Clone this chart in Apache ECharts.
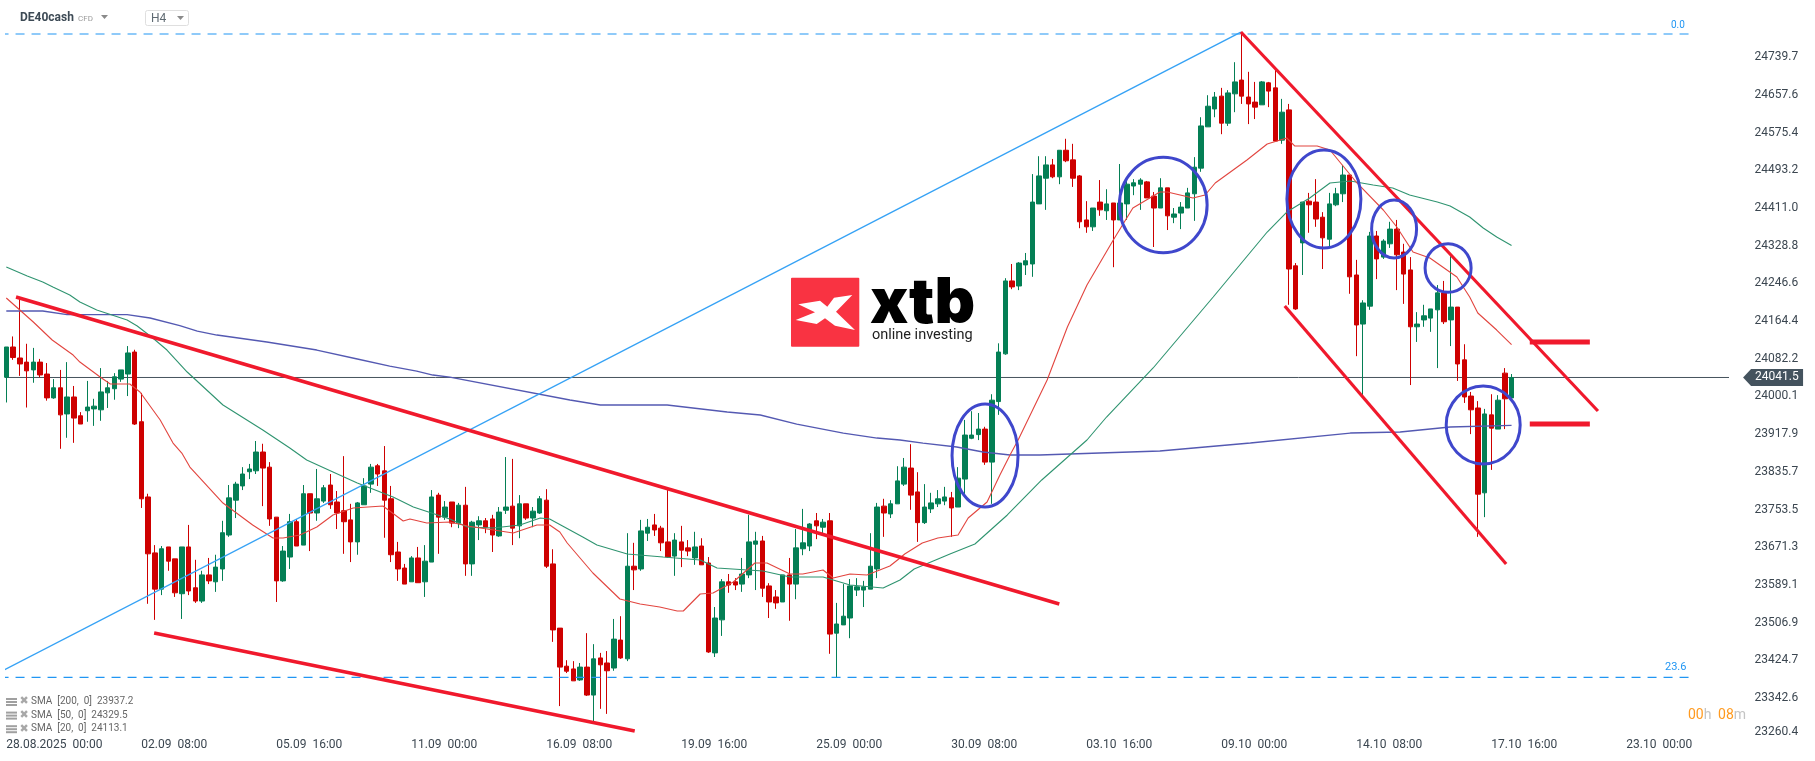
<!DOCTYPE html>
<html><head><meta charset="utf-8">
<style>html,body{margin:0;padding:0;background:#fff}#c{width:1815px;height:761px}</style>
<script src="https://cdn.jsdelivr.net/npm/echarts@6/dist/echarts.min.js"></script>
</head><body><div id="c"></div>
<script>
const opens=[24042,24108,24084,24075,24058,24075,24049,23997,24019,23962,
23999,23958,23969,23973,23971,24008,24017,24038,24049,24097,
23945,23781,23659,23580,23672,23646,23570,23672,23583,23554,
23611,23596,23624,23698,23774,23805,23836,23838,23879,23846,
23737,23598,23650,23727,23676,23788,23746,23772,23807,23770,
23751,23731,23683,23764,23809,23849,23838,23777,23661,23626,
23596,23648,23596,23639,23785,23737,23770,23724,23763,23635,
23720,23729,23733,23696,23752,23761,23718,23766,23735,23746,
23774,23635,23495,23412,23406,23382,23410,23349,23430,23419,
23408,23469,23428,23630,23624,23702,23720,23713,23683,23652,
23683,23670,23648,23674,23637,23441,23513,23596,23596,23591,
23611,23678,23685,23587,23563,23552,23611,23591,23668,23674,
23729,23715,23729,23484,23502,23517,23578,23578,23580,23624,
23761,23744,23766,23809,23844,23792,23725,23755,23766,23772,
23779,23759,23820,23909,23917,23929,23857,23989,24093,24252,
24241,24287,24289,24420,24476,24505,24479,24537,24516,24481,
24385,24370,24424,24405,24422,24385,24420,24459,24463,24468,
24437,24411,24455,24391,24400,24411,24442,24498,24588,24627,
24655,24596,24660,24690,24653,24642,24636,24684,24673,24559,
24625,24285,24335,24426,24424,24391,24343,24418,24442,24483,
24265,24158,24197,24350,24304,24333,24365,24315,24276,24152,
24167,24171,24189,24226,24167,24195,24080,24001,23975,23790,
23960,23929,24051,23997];
const closes=[24108,24085,24071,24056,24075,24047,23997,24019,23960,23999,
23953,23940,23977,23979,24010,24019,24043,24058,24095,23940,
23777,23657,23580,23668,23641,23572,23672,23576,23554,23611,
23598,23628,23703,23779,23809,23831,23842,23879,23844,23733,
23598,23663,23727,23674,23788,23746,23777,23801,23764,23746,
23727,23683,23768,23805,23846,23831,23774,23655,23624,23591,
23648,23594,23641,23781,23737,23759,23724,23763,23635,23726,
23729,23715,23698,23748,23759,23713,23766,23735,23750,23777,
23630,23491,23410,23401,23380,23410,23349,23428,23415,23402,
23471,23430,23630,23622,23707,23715,23709,23681,23650,23687,
23665,23663,23672,23633,23443,23517,23596,23589,23589,23613,
23683,23685,23582,23552,23550,23611,23591,23670,23681,23722,
23718,23726,23482,23504,23521,23587,23585,23585,23630,23759,
23746,23766,23816,23846,23785,23725,23759,23768,23777,23781,
23757,23822,23916,23916,23929,23857,23992,24097,24252,24239,
24291,24296,24424,24481,24505,24479,24537,24514,24476,24381,
24370,24411,24407,24420,24385,24422,24463,24466,24472,24433,
24411,24455,24394,24398,24413,24444,24500,24590,24633,24653,
24596,24662,24686,24655,24638,24631,24686,24666,24557,24620,
24278,24191,24424,24418,24387,24346,24420,24442,24483,24261,
24156,24204,24350,24300,24339,24365,24309,24267,24152,24158,
24176,24191,24226,24163,24195,24071,23999,23971,23787,23962,
23931,23992,23995,24041.5];
const highs=[24108,24131,24214,24115,24106,24082,24073,24038,24058,24075,
24023,23966,24034,23995,24062,24034,24051,24058,24110,24102,
24008,23788,23676,23674,23672,23646,23672,23720,23644,23620,
23648,23655,23729,23807,23814,23846,23853,23903,23897,23857,
23737,23674,23744,23733,23807,23788,23842,23807,23831,23794,
23870,23766,23770,23822,23853,23853,23892,23805,23683,23635,
23652,23672,23676,23796,23790,23772,23770,23768,23803,23729,
23739,23735,23742,23759,23868,23864,23785,23766,23759,23783,
23798,23667,23495,23425,23423,23419,23484,23460,23441,23445,
23515,23521,23702,23681,23731,23733,23744,23718,23796,23702,
23718,23687,23705,23691,23650,23541,23602,23613,23604,23648,
23742,23705,23696,23593,23578,23611,23648,23711,23755,23724,
23746,23733,23746,23550,23591,23602,23604,23598,23702,23768,
23777,23774,23848,23866,23896,23835,23809,23790,23796,23803,
23792,23846,23949,23968,23964,23934,24005,24116,24258,24289,
24293,24313,24485,24524,24524,24518,24537,24562,24551,24483,
24426,24411,24472,24452,24422,24507,24474,24474,24476,24470,
24446,24476,24455,24411,24424,24455,24522,24609,24657,24664,
24673,24668,24729,24795,24708,24686,24688,24686,24712,24649,
24638,24291,24424,24444,24474,24402,24444,24455,24505,24483,
24298,24210,24359,24361,24343,24381,24385,24333,24304,24184,
24200,24191,24243,24252,24306,24195,24114,24010,23990,23973,
24005,24003,24062,24049];
const lows=[23987,24080,24045,23976,24030,24042,23991,23995,23886,23910,
23899,23940,23945,23936,23947,23975,23993,24032,24001,23938,
23757,23548,23513,23567,23620,23563,23515,23567,23550,23550,
23591,23574,23598,23694,23735,23796,23820,23831,23761,23718,
23552,23596,23624,23674,23676,23663,23729,23768,23755,23711,
23657,23639,23655,23764,23790,23805,23692,23639,23598,23591,
23596,23594,23563,23639,23657,23731,23715,23713,23609,23609,
23687,23702,23661,23694,23744,23676,23691,23731,23715,23744,
23626,23465,23325,23397,23380,23380,23347,23290,23319,23308,
23402,23428,23423,23578,23620,23685,23696,23663,23648,23609,
23628,23652,23633,23633,23441,23432,23478,23572,23578,23574,
23604,23578,23563,23517,23537,23552,23511,23558,23654,23663,
23689,23696,23439,23388,23502,23473,23565,23541,23580,23604,
23694,23735,23766,23805,23753,23683,23722,23746,23759,23763,
23694,23759,23785,23907,23905,23851,23766,23960,24091,24234,
24232,24265,24261,24420,24407,24476,24463,24511,24457,24367,
24357,24361,24394,24385,24282,24385,24385,24439,24407,24433,
24326,24411,24363,24378,24365,24411,24383,24490,24588,24609,
24572,24590,24620,24638,24594,24605,24636,24631,24557,24551,
24200,24189,24265,24357,24370,24278,24328,24415,24424,24224,
24088,24003,24189,24256,24300,24324,24232,24202,24025,24119,
24152,24141,24062,24158,24110,24034,23986,23918,23694,23737,
23840,23929,23929,23997];

const sma200=[[0,24186.5],[5.4,24186.5],[9,24178.4],[17.9,24178.4],[21.3,24171.2],[25.7,24154.4],[28.3,24142.8],[31.2,24134.1],[38.6,24118.9],[46,24101.4],[52,24081.8],[56.8,24066.5],[60.8,24055.6],[63.2,24046.9],[65.7,24042.5],[83.5,23992.4],[88,23981.5],[97.9,23981.5],[106.8,23966.2],[111.7,23959.7],[117.1,23940],[124,23920.4],[129,23909.5],[132.4,23905.2],[135.8,23898.6],[140.8,23889.9],[144.7,23879],[148.7,23872.5],[153.1,23872.5],[162,23876.8],[170.9,23881.2],[184.3,23898.6],[199.1,23920.4],[206.5,23922.6],[213.9,23933.5],[223,23937.2]];
const sma50=[[0,24282.4],[3.1,24262.8],[5.4,24249.7],[6.9,24238.8],[9.4,24221.3],[10.9,24206.1],[13.4,24188.6],[17.9,24166.8],[19.4,24153.7],[21.7,24127.6],[23.8,24101.4],[26.8,24053.4],[32.1,23981.5],[38,23927],[42,23887.7],[44.5,23861.6],[48.4,23835.4],[52,23811.4],[57.3,23780.9],[60.3,23759.1],[65.7,23732.9],[68.3,23715.5],[72.1,23713.3],[76.1,23719.8],[79.1,23735.1],[80.5,23732.9],[85.4,23693.7],[87.5,23676.2],[92,23656.6],[97.3,23650],[102.8,23643.5],[105.3,23626],[112.1,23619.5],[116.1,23606.4],[121,23606.4],[125,23589],[129.9,23582.5],[132.4,23599.9],[134.5,23624],[139.8,23656.6],[143.5,23678.4],[148.3,23741.7],[153.4,23818],[160.1,23905.2],[163,23955.3],[169.9,24062.2],[178.8,24217],[186.8,24358.7],[189.7,24402.3],[193.1,24432.9],[196.1,24465.6],[199.1,24469.9],[202.5,24461.2],[205.4,24454.7],[207.9,24439.4],[212,24424.2],[213.9,24415.4],[216.8,24391.4],[218.8,24367.4],[220.8,24347.8],[223,24329.5]];
const sma20=[[0,24214.8],[2,24188.6],[4,24162.5],[6.8,24123.2],[9.9,24090.5],[10.9,24075.2],[13.9,24042.5],[15.4,24027.3],[18.3,24027.3],[19.8,24009.8],[22.8,23948.8],[24.7,23898.6],[26,23876.8],[27.2,23846.3],[32.1,23767.8],[36.5,23719.8],[39.5,23691.5],[41,23691.5],[43.5,23698],[46,23715.5],[48.4,23741.7],[51.4,23756.9],[55.8,23761.3],[58.8,23728.6],[59.8,23732.9],[62.3,23724.2],[65.7,23726.4],[68.3,23717.7],[75.1,23702.4],[78.6,23719.8],[80.5,23719.8],[82,23704.6],[83.1,23680.6],[86.9,23615.2],[90.9,23558.5],[93.9,23547.6],[96.8,23541],[99.4,23532.3],[100.3,23532.3],[102.8,23569.4],[104.7,23571.6],[107.7,23595.6],[110.9,23637],[112.7,23637],[116.1,23613],[118,23613],[121,23621.7],[122.5,23604.2],[125,23613],[127.5,23610.8],[129.4,23621.7],[130.9,23630.4],[132.4,23647.9],[133.1,23656.6],[135.7,23680.6],[138,23691.5],[141,23698],[142.5,23735.1],[145.3,23770],[147.2,23828.9],[148.7,23872.5],[149.9,23905.2],[154.2,24036],[157.2,24151.6],[160.1,24243.2],[164,24341.3],[166.9,24411],[170.9,24445.9],[172,24445.9],[175.8,24432.9],[177.6,24439.4],[179.1,24465.6],[183.8,24515.7],[186.8,24550.6],[189.7,24563.7],[190.9,24546.2],[194.2,24546.2],[196.1,24537.5],[200.1,24465.6],[204,24406.7],[206,24369.6],[208.4,24315.1],[210.9,24302],[214.9,24260.6],[216.8,24217],[218,24182.1],[220.8,24145],[223,24113.1]];

const trendUpper=[[1.44,24217],[156,23547.6]];
const trendLower=[[21.9,23484.3],[93.1,23270.7]];
const fibRise=[[-0.93,23399.3],[182.9,24794.8]];
const channelUpper=[[182.9,24794.8],[235.8,23968.4]];
const channelLower=[[189.4,24197.4],[222.2,23634.8]];
const levelHigh=[[225.7,24118.9],[234.6,24118.9]];
const levelLow=[[225.7,23940],[234.6,23940]];
const fib0=[[-1,24790.5],[249.5,24790.5]];
const fib236=[[-1,23387.7],[249.5,23387.7]];
const lastPrice=24041.5;
const lastLine=[[-1,lastPrice],[257.3,lastPrice]];
// centre index, centre price, radius in bars, radius in price
const rings=[[145,23871.4,4.89,112.3],[171.4,24417.6,6.5,104],[195.2,24430.7,5.48,106.8],[205.6,24365.3,3.33,63.2],[213.6,24280.2,3.41,53],[218.8,23938,5.48,85]];

const priceTicks=[24739.7,24657.6,24575.4,24493.2,24411.0,24328.8,24246.6,24164.4,24082.2,24000.1,23917.9,23835.7,23753.5,23671.3,23589.1,23506.9,23424.7,23342.6,23260.4];
const timeTicks=[0,20,40,60,80,100,120,140,160,180,200,220,240];
const timeLabels=['28.08.2025  00:00','02.09  08:00','05.09  16:00','11.09  00:00','16.09  08:00','19.09  16:00','25.09  00:00','30.09  08:00','03.10  16:00','09.10  00:00','14.10  08:00','17.10  16:00','23.10  00:00'];
const smaLegend=['SMA  [200,  0]  23937.2','SMA  [50,  0]  24329.5','SMA  [20,  0]  24113.1'];

const RED='#ce0000',GREEN='#047f55',TREND='#f0192c',FIB='#2196f3',INK='#3b4650',FONT='Roboto';
const candles=opens.map((o,i)=>[i,o,closes[i],lows[i],highs[i]]);
const straight=(name,data,color,width,extra)=>Object.assign({name,type:'line',data,symbol:'none',silent:true,clip:false,animation:false,
  lineStyle:{color,width,cap:'butt'},z:5},extra||{});

const legendGraphic=[];
smaLegend.forEach((t,i)=>{
  const y=702+i*13.6;
  [-4,-1,2].forEach(d=>legendGraphic.push({type:'rect',shape:{x:6,y:y+d,width:11,height:2},style:{fill:'#a0a0a0'},silent:true}));
  legendGraphic.push({type:'text',style:{text:'✖',x:19.5,y:y-6,font:'11px "DejaVu Sans"',fill:'#a8a8a8'},silent:true});
  legendGraphic.push({type:'text',style:{text:t,x:31,y:y-5.5,font:'10px '+FONT,fill:'#666'},silent:true});
});

const chart=echarts.init(document.getElementById('c'),null,{renderer:'canvas'});
chart.setOption({
  animation:false,
  backgroundColor:'#fff',
  grid:{left:6.3,width:1721.25,top:10,height:728,containLabel:false},
  xAxis:{type:'value',min:0,max:255,splitLine:{show:false},axisLine:{show:false},axisTick:{show:false},
    axisLabel:{customValues:timeTicks,align:'left',margin:1,color:INK,fontFamily:FONT,fontSize:12,
      formatter:v=>timeLabels[timeTicks.indexOf(v)]||''}},
  yAxis:{type:'value',position:'right',min:23255.4,max:24842.8,scale:true,splitLine:{show:false},axisLine:{show:false},axisTick:{show:false},
    axisLabel:{customValues:priceTicks,margin:27,align:'left',color:INK,fontFamily:FONT,fontSize:12,
      formatter:v=>v===23260.4?'{low|23260.4}':v.toFixed(1),
      rich:{low:{padding:[0,0,8,0],color:INK,fontFamily:FONT,fontSize:12}}}},
  series:[
    straight('price',lastLine,'#46535d',1,{z:1}),
    {name:'DE40cash',type:'candlestick',data:candles,encode:{x:0,y:[1,2,3,4]},barWidth:5,clip:false,z:3,silent:true,
      itemStyle:{color:GREEN,color0:RED,borderColor:GREEN,borderColor0:RED,borderWidth:1}},
    straight('SMA200',sma200,'#5459b2',1.3,{z:4}),
    straight('SMA50',sma50,'#2f9470',1.1,{z:4}),
    straight('SMA20',sma20,'#e2453f',1.1,{z:4}),
    straight('fib0',fib0,FIB,1.2,{lineStyle:{color:FIB,width:1.2,type:[9,7]}}),
    straight('fib236',fib236,FIB,1.2,{lineStyle:{color:FIB,width:1.2,type:[9,7]}}),
    straight('fibRise',fibRise,'#36a2f5',1.4),
    straight('trendUpper',trendUpper,TREND,3.5),
    straight('trendLower',trendLower,TREND,3.5),
    straight('channelUpper',channelUpper,TREND,3.2),
    straight('channelLower',channelLower,TREND,3.2),
    straight('levelHigh',levelHigh,TREND,5),
    straight('levelLow',levelLow,TREND,5),
    {name:'rings',type:'custom',data:rings,clip:false,z:6,silent:true,
      renderItem:(p,api)=>{const c=api.coord([api.value(0),api.value(1)]);const s=api.size([api.value(2),api.value(3)]);
        return {type:'ellipse',shape:{cx:c[0],cy:c[1],rx:s[0],ry:s[1]},style:{fill:null,stroke:'#3f47cc',lineWidth:3}};}},
    {name:'lastTag',type:'custom',data:[[257.3,lastPrice]],clip:false,z:7,silent:true,
      renderItem:(p,api)=>{const c=api.coord([api.value(0),api.value(1)]);
        return {type:'group',x:c[0],y:c[1],children:[
          {type:'polygon',shape:{points:[[0,0],[8,-8.5],[60,-8.5],[60,8.5],[8,8.5]]},style:{fill:'#44535e'}},
          {type:'text',style:{text:lastPrice.toFixed(1),x:12,y:-6,font:'12px '+FONT,fill:'#fff'}}]};}}
  ],
  graphic:[
    {type:'text',silent:true,style:{text:'DE40cash',x:20,y:12,font:'bold 12px '+FONT,fill:'#3d4a55'}},
    {type:'text',silent:true,style:{text:'CFD',x:78,y:15,font:'8px '+FONT,fill:'#9a9a9a'}},
    {type:'polygon',silent:true,shape:{points:[[101,15],[108,15],[104.5,19]]},style:{fill:'#8a8a8a'}},
    {type:'rect',silent:true,shape:{x:145.5,y:10.5,width:43,height:15,r:2},style:{fill:'#fff',stroke:'#dfdfdf',lineWidth:1}},
    {type:'text',silent:true,style:{text:'H4',x:151,y:13,font:'12px '+FONT,fill:'#5f6a72'}},
    {type:'polygon',silent:true,shape:{points:[[177,16],[184,16],[180.5,20]]},style:{fill:'#8a8a8a'}},
    {type:'text',silent:true,style:{text:'0.0',x:1671,y:20,font:'10px '+FONT,fill:FIB}},
    {type:'text',silent:true,style:{text:'23.6',x:1665,y:662,font:'11px '+FONT,fill:FIB}},
    {type:'text',silent:true,style:{x:1688,y:708,rich:{a:{fill:'#ff9a1f',font:'14px '+FONT},b:{fill:'#c4c4c4',font:'14px '+FONT}},text:'{a|00}{b|h}  {a|08}{b|m}'}},
    {type:'group',silent:true,x:770,y:260,z:2,children:[
      {type:'rect',shape:{x:21,y:17.7,width:68.3,height:69,r:1},style:{fill:'#f93342'}},
      {type:'polygon',shape:{points:[[28.3,44.3],[50,40.7],[57.3,46.7],[64,37.7],[82.3,35],[66,51.7],[85,70],[65,65.7],[55,58.3],[46.7,64],[25.7,60],[45,52.3]]},style:{fill:'#fff'}},
      {type:'text',style:{text:'xtb',x:100,y:13,font:'900 63px Inter',fill:'#000'}},
      {type:'text',style:{text:'online investing',x:102,y:68,font:'14.5px '+FONT,fill:'#222'}}
    ]},
    ...legendGraphic
  ]
});
</script></body></html>
